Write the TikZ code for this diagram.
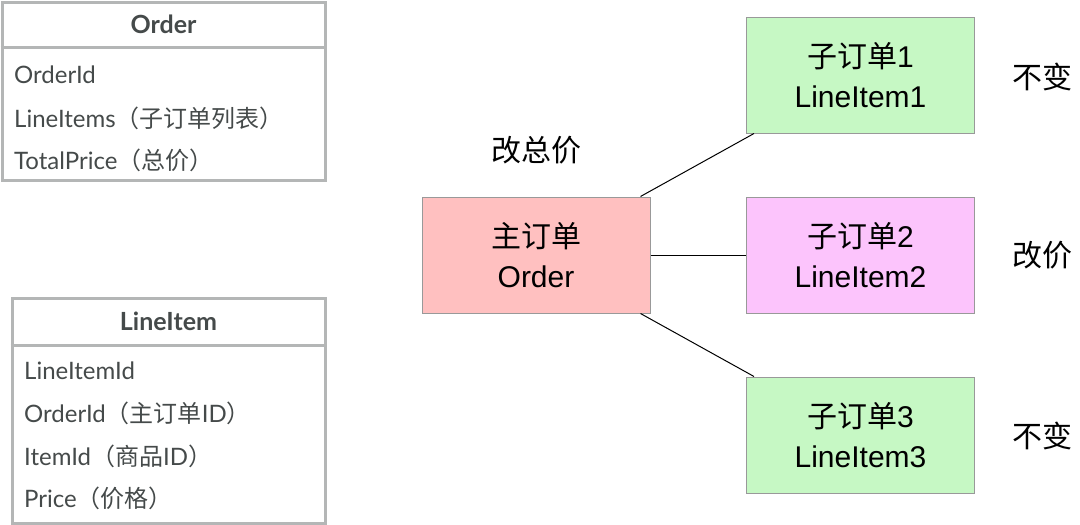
\documentclass[tikz,border=0pt]{standalone}
\usepackage{fontspec}
\setmainfont{Liberation Sans}
\newfontfamily\cjk{Noto Sans CJK SC}
\newfontfamily\lato{Lato}
\usetikzlibrary{calc}
\definecolor{mainred}{HTML}{FFC0C0}
\definecolor{subgreen}{HTML}{C6F8C4}
\definecolor{subpink}{HTML}{FCC4FC}
\definecolor{boxgray}{HTML}{B4B6B6}
\definecolor{txtgray}{HTML}{454A4A}
\definecolor{edgegray}{HTML}{999999}
\tikzset{
  ordbox/.style={draw=edgegray, line width=1pt, minimum width=228pt, minimum height=116pt, align=center, inner sep=0pt,
    font=\fontsize{30}{40}\selectfont},
  classbox/.style={draw=boxgray, line width=3pt, inner sep=0pt},
  classtitle/.style={font=\lato\bfseries\fontsize{25}{28}\selectfont, text=txtgray, inner sep=0pt},
  classrow/.style={font=\lato\fontsize{24}{28}\selectfont, text=txtgray, anchor=west, inner sep=0pt},
  note/.style={font=\cjk\fontsize{30}{34}\selectfont, inner sep=0pt},
  conn/.style={line width=1pt, black}
}
\begin{document}
\begin{tikzpicture}[x=1pt,y=-1pt]
\useasboundingbox (0,0) rectangle (1080,525);
% Order class
\node[classbox, minimum width=323pt, minimum height=178pt] (ordercls) at (163.5,91) {};
\draw[boxgray, line width=3pt] (ordercls.west |- 0,47) -- (ordercls.east |- 0,47);
\node[classtitle] (ordertitle) at (163.5,24) {Order};
\node[classrow] (o1) at (14,75) {OrderId};
\node[classrow] (o2) at (14,118) {LineItems{\cjk（子订单列表）}};
\node[classrow] (o3) at (14,160) {TotalPrice{\cjk（总价）}};
% LineItem class
\node[classbox, minimum width=313pt, minimum height=225pt] (itemcls) at (168.5,410.5) {};
\draw[boxgray, line width=3pt] (itemcls.west |- 0,345) -- (itemcls.east |- 0,345);
\node[classtitle] (itemtitle) at (168.5,321) {LineItem};
\node[classrow] (l1) at (24,371) {LineItemId};
\node[classrow] (l2) at (24,413) {OrderId{\cjk（主订单}ID{\cjk）}};
\node[classrow] (l3) at (24,456) {ItemId{\cjk（商品}ID{\cjk）}};
\node[classrow] (l4) at (24,498) {Price{\cjk（价格）}};
% order graph
\node[ordbox, fill=mainred] (main) at (536,255) {{\cjk 主订单}\\Order};
\node[ordbox, fill=subgreen] (s1) at (860.5,75) {{\cjk 子订单}1\\LineItem1};
\node[ordbox, fill=subpink] (s2) at (860.5,255) {{\cjk 子订单}2\\LineItem2};
\node[ordbox, fill=subgreen] (s3) at (860.5,435) {{\cjk 子订单}3\\LineItem3};
\draw[conn] ($(main.north east)+(-10,0)$) -- ($(s1.south west)+(8,0)$);
\draw[conn] (main.east) -- (s2.west);
\draw[conn] ($(main.south east)+(-10,0)$) -- ($(s3.north west)+(8,0)$);
% labels
\node[note] (t0) at (536,150) {改总价};
\node[note] (t1) at (1042,77) {不变};
\node[note] (t2) at (1042,255) {改价};
\node[note] (t3) at (1042,436) {不变};
\end{tikzpicture}
\end{document}
